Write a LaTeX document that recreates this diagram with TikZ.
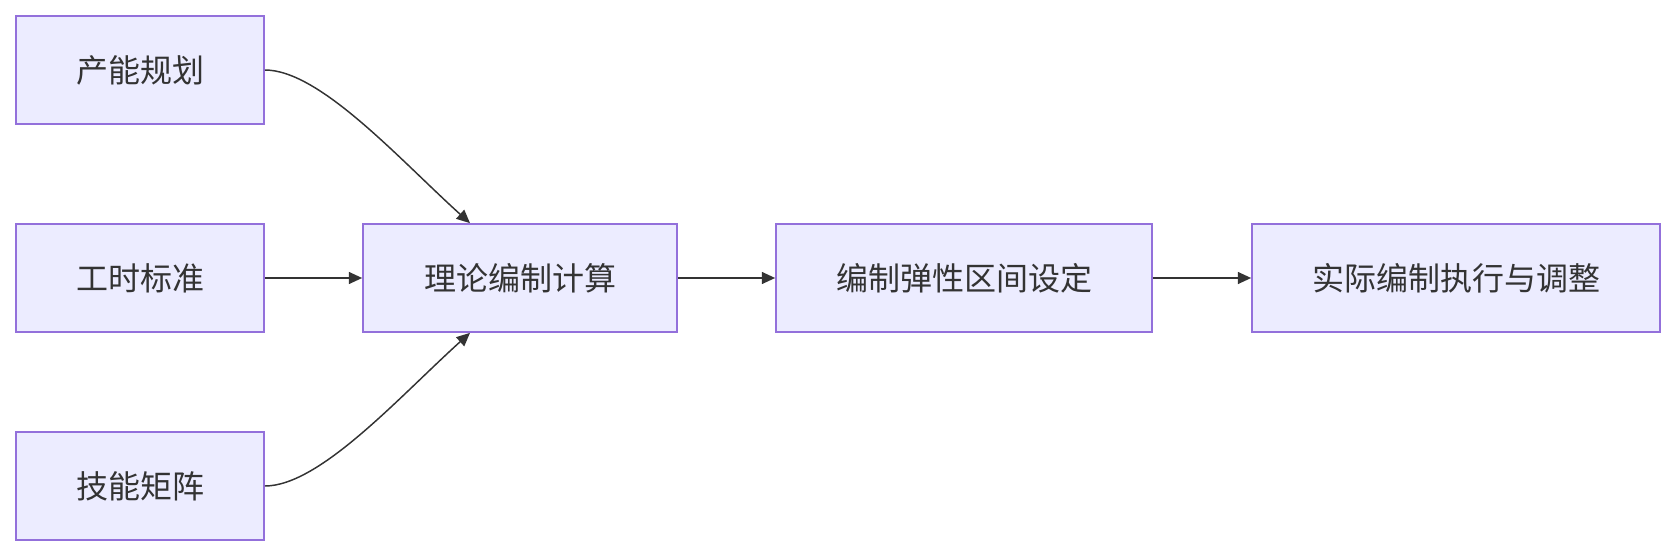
\documentclass[tikz,border=0pt]{standalone}
\usepackage{fontspec}
\setmainfont{Noto Sans CJK SC}
\usetikzlibrary{arrows.meta}
\definecolor{boxfill}{HTML}{ECECFF}
\definecolor{boxline}{HTML}{9370DB}
\definecolor{ink}{HTML}{333333}
\tikzset{
  stepbox/.style={draw=boxline, fill=boxfill, line width=1.3pt, text=ink,
    font=\fontsize{24pt}{28pt}\selectfont, inner sep=0pt, minimum height=108*0.75pt},
  flow/.style={draw=ink, line width=1.1pt, -{Triangle[length=10pt,width=9pt]}}
}
\begin{document}
\begin{tikzpicture}[x=0.75pt,y=-0.75pt]
            \useasboundingbox (0,0) rectangle (1676,556);
            \node[stepbox, minimum width=248*0.75pt] (plan) at (140,70) {产能规划};
            \node[stepbox, minimum width=248*0.75pt] (std) at (140,278) {工时标准};
            \node[stepbox, minimum width=248*0.75pt] (skill) at (140,486) {技能矩阵};
            \node[stepbox, minimum width=314*0.75pt] (calc) at (520,278) {理论编制计算};
            \node[stepbox, minimum width=376*0.75pt] (range) at (964,278) {编制弹性区间设定};
            \node[stepbox, minimum width=408*0.75pt] (exec) at (1456,278) {实际编制执行与调整};
            \draw[flow] (plan.east) .. controls (320,70) and (400,160) .. ([xshift=-50*0.75pt]calc.north);
            \draw[flow] (std) -- (calc);
            \draw[flow] (skill.east) .. controls (320,486) and (400,396) .. ([xshift=-50*0.75pt]calc.south);
            \draw[flow] (calc) -- (range);
            \draw[flow] (range) -- (exec);
\end{tikzpicture}
\end{document}
